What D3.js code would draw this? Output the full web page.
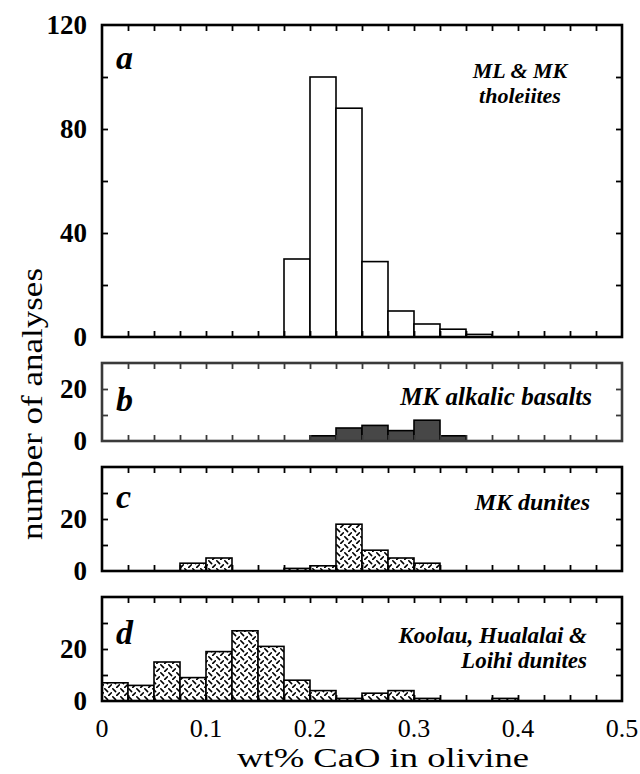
<!DOCTYPE html>
<html><head><meta charset="utf-8">
<script src="https://cdn.jsdelivr.net/npm/d3@7"></script>
<style>body{margin:0;background:#fff}svg{display:block}</style>
</head><body><svg id="c" width="640" height="774"></svg>
<script>
// bin start values (wt% CaO), bin width 0.025
const binStarts = [0,0.025,0.05,0.075,0.1,0.125,0.15,0.175,0.2,0.225,0.25,0.275,0.3,0.325,0.35,0.375,0.4,0.425,0.45,0.475];
const binWidth = 0.025;
const tholeiites = [0,0,0,0,0,0,0,30,100,88,29,10,5,3,1,0,0,0,0,0];
const alkalic    = [0,0,0,0,0,0,0,0,2,5,6,4,8,2,0,0,0,0,0,0];
const mkDunites  = [0,0,0,3,5,0,0,1,2,18,8,5,3,0,0,0,0,0,0,0];
const otherDunites=[7,6,15,9,19,27,21,8,4,1,3,4,1,0,0,1,0,0,0,0];
const xTicks = [0,0.1,0.2,0.3,0.4,0.5];

const panels = [
  {key:"a", data:tholeiites, max:120, labels:[0,40,80,120], minor:20, top:25, fill:"#fff", frame:"#000", fs:22,
   text:[{t:"ML & MK", x:520, y:78, anchor:"middle"},{t:"tholeiites", x:520, y:103, anchor:"middle"}], letterY:69},
  {key:"b", data:alkalic, max:30, labels:[0,20], minor:10, top:363, fill:"#474747", frame:"#3a3a3a", fs:25,
   text:[{t:"MK alkalic basalts", x:592, y:405, anchor:"end"}], letterY:411},
  {key:"c", data:mkDunites, max:40, labels:[0,20], minor:10, top:467, fill:"url(#hatch)", frame:"#000", fs:24,
   text:[{t:"MK dunites", x:590, y:510, anchor:"end"}], letterY:508},
  {key:"d", data:otherDunites, max:40, labels:[0,20], minor:10, top:597, fill:"url(#hatch)", frame:"#000", fs:23,
   text:[{t:"Koolau, Hualalai &", x:587, y:643, anchor:"end"},{t:"Loihi dunites", x:587, y:668, anchor:"end"}], letterY:644}
];

const pxPerUnit = 2.6;
const svg = d3.select("#c");
const FONT = '"Liberation Serif"';

const defs = svg.append("defs");
const pat = defs.append("pattern").attr("id","hatch").attr("patternUnits","userSpaceOnUse")
  .attr("width",8).attr("height",8);
pat.append("rect").attr("width",8).attr("height",8).attr("fill","#fff");
pat.append("path").attr("d","M0.8,0.8L3.6,3.6M4.8,7.4L7.4,4.8").attr("stroke","#000").attr("stroke-width",1.6).attr("stroke-linecap","round");

const x = d3.scaleLinear().domain([0,0.5]).range([102,622]);

panels.forEach(p => {
  const h = p.max*pxPerUnit;
  const y = d3.scaleLinear().domain([0,p.max]).range([p.top+h, p.top]);
  const g = svg.append("g");
  g.selectAll("rect.bar").data(binStarts.map((s,i)=>({s, v:p.data[i]})).filter(d=>d.v>0))
    .enter().append("rect").attr("class","bar")
    .attr("x", d=>x(d.s)).attr("width", d=>x(d.s+binWidth)-x(d.s))
    .attr("y", d=>y(d.v)).attr("height", d=>y(0)-y(d.v))
    .attr("fill", p.fill).attr("stroke", "#000").attr("stroke-width",1.6);
  const tickLen = 6;
  const xMinor = binStarts.slice(1);
  const ts = p.frame;
  const style = a=>{a.select(".domain").remove(); a.selectAll("line").attr("stroke",ts).attr("stroke-width",1.8);};
  g.append("g").attr("transform",`translate(0,${y(0)})`)
    .call(d3.axisBottom(x).tickValues(xMinor).tickSize(-tickLen).tickFormat("")).call(style);
  g.append("g").attr("transform",`translate(0,${y(p.max)})`)
    .call(d3.axisTop(x).tickValues(xMinor).tickSize(-tickLen).tickFormat("")).call(style);
  const yMinor = d3.range(p.minor, p.max, p.minor);
  g.append("g").attr("transform",`translate(${x(0)},0)`)
    .call(d3.axisLeft(y).tickValues(yMinor).tickSize(-tickLen).tickFormat("")).call(style);
  g.append("g").attr("transform",`translate(${x(0.5)},0)`)
    .call(d3.axisRight(y).tickValues(yMinor).tickSize(-tickLen).tickFormat("")).call(style);
  g.append("rect").attr("x",x(0)).attr("y",y(p.max)).attr("width",x(0.5)-x(0)).attr("height",h)
    .attr("fill","none").attr("stroke",p.frame).attr("stroke-width",2.6);
  g.selectAll("text.yl").data(p.labels).enter().append("text").attr("class","yl")
    .attr("x",87).attr("y",d=>y(d)).attr("dy","0.33em").attr("text-anchor","end")
    .style("font-family",FONT).style("font-weight","bold").style("font-size","27px").text(d=>d);
  g.append("text").attr("x",116).attr("y",p.letterY)
    .style("font-family",FONT).style("font-weight","bold").style("font-style","italic").style("font-size","34px").text(p.key);
  p.text.forEach(t=>{
    g.append("text").attr("x",t.x).attr("y",t.y).attr("text-anchor",t.anchor)
      .style("font-family",FONT).style("font-weight","bold").style("font-style","italic")
      .style("font-size",p.fs+"px").text(t.t);
  });
});

svg.selectAll("text.xl").data(xTicks).enter().append("text").attr("class","xl")
  .attr("x",d=>x(d)).attr("y",737).attr("text-anchor","middle")
  .style("font-family",FONT).style("font-size","26px").text(d=>String(d));

svg.append("text").attr("x",383).attr("y",767).attr("text-anchor","middle")
  .style("font-family",FONT).style("font-size","27px").attr("textLength",292).attr("lengthAdjust","spacingAndGlyphs").text("wt% CaO in olivine");

svg.append("text").attr("transform","translate(42,404) rotate(-90)").attr("text-anchor","middle")
  .style("font-family",FONT).style("font-size","30px").attr("textLength",272).attr("lengthAdjust","spacingAndGlyphs").text("number of analyses");
</script></body></html>
